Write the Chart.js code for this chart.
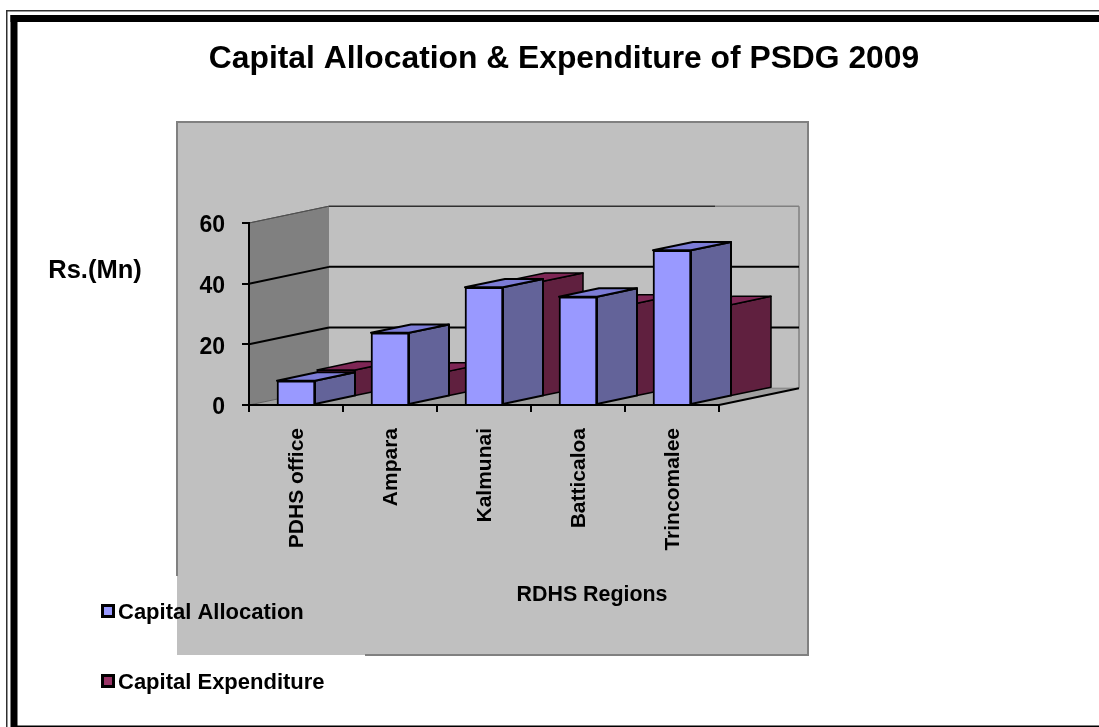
<!DOCTYPE html>
<html>
<head>
<meta charset="utf-8">
<title>Capital Allocation & Expenditure of PSDG 2009</title>
<script src="https://cdn.jsdelivr.net/npm/chart.js@4"></script>
<style>
  html, body { margin: 0; padding: 0; background: #fff; overflow: hidden; }
  canvas { display: block; }
</style>
</head>
<body>
<canvas id="psdgChart" width="1099" height="727"></canvas>
<script>
const regions = ['PDHS office', 'Ampara', 'Kalmunai', 'Batticaloa', 'Trincomalee']
const capitalAllocation = [8, 23.8, 38.8, 35.7, 51]
const capitalExpenditure = [8.8, 8.4, 38, 30.8, 30.3]
const yTicks = [0, 20, 40, 60]

const titleText = 'Capital Allocation & Expenditure of PSDG 2009'
const yAxisText = 'Rs.(Mn)'
const xAxisText = 'RDHS Regions'

const fontName = '"Liberation Sans", Arial, sans-serif'
// one bar row of depth on the fake 3d floor, the walls are two rows deep
const rowDx = 40
const rowDy = 8.4

function poly(ctx, pts, fill, stroke, lw) {
  ctx.beginPath()
  pts.forEach((p, i) => i ? ctx.lineTo(p[0], p[1]) : ctx.moveTo(p[0], p[1]))
  ctx.closePath()
  if (fill) { ctx.fillStyle = fill; ctx.fill() }
  if (stroke) { ctx.strokeStyle = stroke; ctx.lineWidth = lw; ctx.lineJoin = 'round'; ctx.stroke() }
}

function line(ctx, x1, y1, x2, y2, color, lw) {
  ctx.beginPath()
  ctx.moveTo(x1, y1)
  ctx.lineTo(x2, y2)
  ctx.strokeStyle = color
  ctx.lineWidth = lw
  ctx.stroke()
}

const backdrop = {
  id: 'backdrop',
  beforeDraw(chart) {
    const ctx = chart.ctx
    const xs = chart.scales.x, ys = chart.scales.y
    const dx = rowDx * 2, dy = rowDy * 2
    const left = xs.left, right = xs.right
    const y0 = ys.getPixelForValue(0), yTop = ys.getPixelForValue(60)
    ctx.save()
    ctx.fillStyle = '#fff'
    ctx.fillRect(0, 0, 1099, 727)

    // outer frame, no right side on the original
    ctx.fillStyle = '#303030'
    ctx.fillRect(6, 10, 1093, 1.5)
    ctx.fillRect(6, 10, 1.5, 717)
    ctx.fillStyle = '#000'
    ctx.fillRect(10.5, 15, 1088.5, 7)
    ctx.fillRect(10.5, 15, 7, 712)
    ctx.fillRect(17, 725.5, 1082, 1.5)

    // grey panel
    ctx.fillStyle = '#c0c0c0'
    ctx.fillRect(177, 122, 631, 533)
    ctx.fillStyle = '#808080'
    ctx.fillRect(176, 121, 633, 2)
    ctx.fillRect(176, 121, 2, 455)
    ctx.fillRect(807, 121, 2, 535)
    ctx.fillRect(365, 654, 444, 2)

    // walls and floor
    poly(ctx, [[left, yTop], [left + dx, yTop - dy], [left + dx, y0 - dy], [left, y0]], '#808080')
    poly(ctx, [[left, y0], [right, y0], [right + dx, y0 - dy], [left + dx, y0 - dy]], '#a0a0a0')
    line(ctx, left, yTop, left + dx, yTop - dy, '#505050', 1)
    line(ctx, left, y0, left + dx, y0 - dy, '#606060', 1)
    line(ctx, left + dx, y0 - dy, right + dx, y0 - dy, '#808080', 1)
    line(ctx, right + dx, yTop - dy, right + dx, y0 - dy, '#808080', 1.5)
    line(ctx, right, y0, right + dx, y0 - dy, '#000', 2)

    // gridlines run over the side wall and along the back wall
    yTicks.filter(v => v > 0).forEach(v => {
      const y = ys.getPixelForValue(v)
      line(ctx, left, y, left + dx, y - dy, v === 60 ? '#505050' : '#000', v === 60 ? 1 : 2)
      if (v === 60) {
        line(ctx, left + dx, y - dy, 715, y - dy, '#303030', 1.5)
        line(ctx, 715, y - dy, right + dx, y - dy, '#808080', 1.5)
      } else {
        line(ctx, left + dx, y - dy, right + dx, y - dy, '#000', 2)
      }
    })
    ctx.restore()
  }
}

// front faces come from the bar elements, sides and tops are added around them
const boxes = {
  id: 'boxes',
  beforeDatasetDraw(chart, args) {
    const ctx = chart.ctx
    const row = chart.data.datasets[args.index].depthRow
    ctx.save()
    ctx.translate(rowDx * row, -rowDy * row)
  },
  afterDatasetDraw(chart, args) {
    const ctx = chart.ctx
    const ds = chart.data.datasets[args.index]
    args.meta.data.forEach(bar => {
      const l = bar.x - bar.width / 2, r = bar.x + bar.width / 2
      const t = bar.y, b = bar.base
      poly(ctx, [[r, t], [r + rowDx, t - rowDy], [r + rowDx, b - rowDy], [r, b]], ds.sideColor, '#000', ds.edgeWidth)
      poly(ctx, [[l, t], [l + rowDx, t - rowDy], [r + rowDx, t - rowDy], [r, t]], ds.topColor, '#000', ds.edgeWidth)
    })
    ctx.restore()
  }
}

const labels = {
  id: 'labels',
  afterDraw(chart) {
    const ctx = chart.ctx
    ctx.save()
    ctx.fillStyle = '#000'
    ctx.textBaseline = 'middle'
    ctx.textAlign = 'center'
    ctx.font = 'bold 31.8px ' + fontName
    ctx.fillText(titleText, 564, 59)
    ctx.font = 'bold 25.5px ' + fontName
    ctx.fillText(yAxisText, 95, 271)
    ctx.font = 'bold 21.4px ' + fontName
    ctx.fillText(xAxisText, 592, 595.5)

    // legend
    ctx.textAlign = 'left'
    const rows = [611, 681]
    ctx.font = 'bold 22px ' + fontName
    chart.data.datasets.forEach((ds, i) => {
      ctx.fillStyle = '#000'
      ctx.fillRect(101, rows[i] - 7, 14, 14)
      ctx.fillStyle = ds.backgroundColor
      ctx.fillRect(104, rows[i] - 4, 8, 8)
      ctx.fillStyle = '#000'
      ctx.fillText(ds.label, 118, rows[i] + 2)
    })
    ctx.restore()
  }
}

new Chart(document.getElementById('psdgChart'), {
  type: 'bar',
  data: {
    labels: regions,
    datasets: [
      {
        label: 'Capital Allocation',
        data: capitalAllocation,
        backgroundColor: '#9999ff',
        borderColor: '#000',
        borderWidth: 2,
        sideColor: '#636399',
        topColor: '#7c7cd6',
        edgeWidth: 2,
        depthRow: 0
      },
      {
        label: 'Capital Expenditure',
        data: capitalExpenditure,
        backgroundColor: '#993366',
        borderColor: '#000',
        borderWidth: 1.5,
        sideColor: '#60203f',
        topColor: '#7e2655',
        edgeWidth: 1.5,
        depthRow: 1
      }
    ]
  },
  options: {
    responsive: false,
    animation: false,
    grouped: false,
    barThickness: 38,
    layout: { padding: { left: 0, right: 380, top: 223, bottom: 0 } },
    plugins: {
      legend: { display: false },
      title: { display: false },
      tooltip: { enabled: false }
    },
    scales: {
      x: {
        offset: true,
        afterFit(scale) { scale.height = 322 },
        grid: { offset: true, drawOnChartArea: false, drawTicks: true, tickLength: 7, color: '#000', lineWidth: 2 },
        border: { color: '#000', width: 2 },
        ticks: {
          maxRotation: 90,
          minRotation: 90,
          autoSkip: false,
          padding: 16,
          labelOffset: 1,
          color: '#000',
          font: { family: fontName, weight: 'bold', size: 21 }
        }
      },
      y: {
        min: 0,
        max: 60,
        afterFit(scale) { scale.width = 249 },
        afterBuildTicks(scale) { scale.ticks = yTicks.map(v => ({ value: v })) },
        grid: { drawOnChartArea: false, drawTicks: true, tickLength: 7, color: '#000', lineWidth: 2 },
        border: { color: '#000', width: 2 },
        ticks: {
          padding: 17,
          labelOffset: 3,
          color: '#000',
          font: { family: fontName, weight: 'bold', size: 23 }
        }
      }
    }
  },
  plugins: [backdrop, boxes, labels]
})
</script>
</body>
</html>
